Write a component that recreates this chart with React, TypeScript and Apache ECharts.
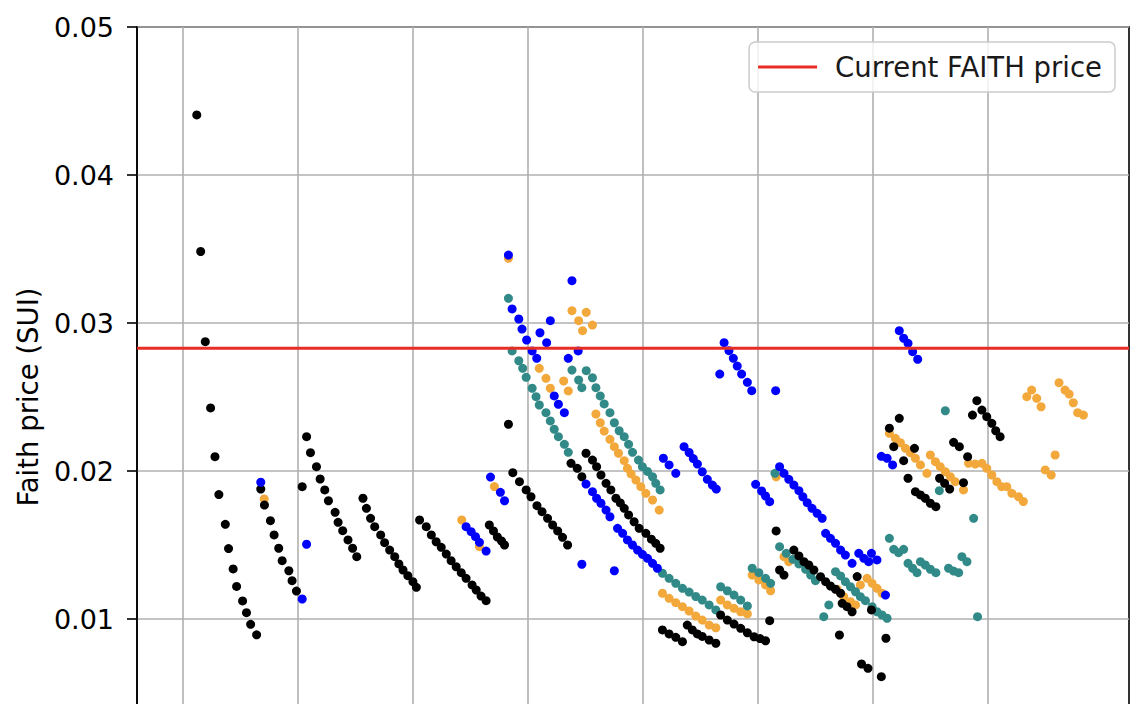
import React, { useEffect, useRef } from "react";
import * as echarts from "echarts";

// x: days (grid every 5 days), y: price in SUI
const xMin = -1.977;
const xMax = 41.12;
const xGridDays = [0, 5, 10, 15, 20, 25, 30, 35];
const currentPrice = 0.0283;
const yMin = 0;
const yMax = 0.05;
const yStep = 0.01;

const blackPoints: [number, number][] = [
  [0.62, 0.04406], [0.79, 0.03483], [0.99, 0.02874], [1.22, 0.02426], [1.41, 0.02097], [1.58, 0.01841], [1.86, 0.0164], [2.0, 0.01476], [2.2, 0.01338], [2.35, 0.0122], [2.61, 0.01122], [2.78, 0.01043], [2.96, 0.00964], [3.22, 0.00893],
  [3.4, 0.01878], [3.56, 0.0177], [3.82, 0.01664], [3.98, 0.01568], [4.18, 0.01478], [4.33, 0.01394], [4.62, 0.01326], [4.76, 0.01259], [4.95, 0.01189],
  [5.2, 0.01894],
  [5.39, 0.02232], [5.56, 0.02124], [5.82, 0.02029], [5.98, 0.01946], [6.18, 0.01872], [6.34, 0.01799], [6.63, 0.01721], [6.76, 0.01653], [6.96, 0.01597], [7.19, 0.01534], [7.39, 0.01478], [7.57, 0.01421],
  [7.84, 0.01816], [7.99, 0.01748], [8.17, 0.0168], [8.35, 0.01624], [8.61, 0.01568], [8.78, 0.01516], [9.0, 0.01466], [9.22, 0.01421], [9.4, 0.01372], [9.58, 0.01331], [9.79, 0.01293], [10.01, 0.01252], [10.16, 0.01214],
  [10.3, 0.01669], [10.59, 0.01624], [10.81, 0.01568], [11.02, 0.01522], [11.24, 0.01484], [11.46, 0.01439], [11.67, 0.01394], [11.89, 0.01353], [12.11, 0.01313], [12.32, 0.01275], [12.58, 0.0123], [12.76, 0.01196], [12.97, 0.01155], [13.19, 0.01124],
  [13.33, 0.01635], [13.51, 0.01595], [13.68, 0.01554], [13.86, 0.01527], [13.99, 0.015],
  [14.16, 0.02316],
  [14.35, 0.01989], [14.64, 0.01928], [14.93, 0.01872], [15.14, 0.01826], [15.4, 0.01766], [15.62, 0.01725], [15.86, 0.0168], [16.08, 0.01635], [16.3, 0.01595], [16.51, 0.01552], [16.73, 0.015],
  [16.88, 0.02052], [17.15, 0.02018], [17.35, 0.01961],
  [17.53, 0.0212], [17.81, 0.02074], [17.99, 0.02029], [18.18, 0.01973], [18.4, 0.01917], [18.61, 0.01872], [18.83, 0.01816], [19.02, 0.01784], [19.19, 0.01748], [19.38, 0.01703], [19.62, 0.01657], [19.84, 0.01613], [20.13, 0.01579], [20.37, 0.01539], [20.56, 0.01511], [20.75, 0.01478],
  [20.85, 0.00926], [21.14, 0.00899], [21.43, 0.00876], [21.72, 0.00847],
  [21.93, 0.00959], [22.15, 0.00926], [22.37, 0.00899], [22.58, 0.00882], [22.88, 0.00858], [23.17, 0.00836],
  [23.38, 0.01027], [23.67, 0.00993], [23.96, 0.00966], [24.25, 0.00937], [24.54, 0.00907], [24.83, 0.0088], [25.09, 0.00868], [25.33, 0.00853],
  [25.51, 0.00989], [25.79, 0.01595], [25.94, 0.01331], [26.13, 0.01297],
  [26.56, 0.01466], [26.78, 0.01426], [27.0, 0.01387], [27.21, 0.01365], [27.43, 0.01331], [27.72, 0.01286], [27.94, 0.01252], [28.15, 0.01223], [28.37, 0.01201], [28.59, 0.01174],
  [28.66, 0.01106], [28.87, 0.01083], [29.09, 0.01049],
  [29.31, 0.01287], [29.93, 0.01061], [28.54, 0.00892], [29.5, 0.00696], [29.78, 0.00667], [30.36, 0.0061], [30.56, 0.0087],
  [31.14, 0.02356], [30.71, 0.02289], [30.9, 0.02164], [31.33, 0.0207], [31.52, 0.01951], [31.8, 0.02153],
  [31.84, 0.0186], [32.06, 0.01838], [32.27, 0.01816], [32.49, 0.01782], [32.73, 0.01759],
  [32.89, 0.01951], [33.11, 0.01917], [33.33, 0.01878],
  [33.5, 0.02194], [33.75, 0.02164], [34.11, 0.02097], [33.93, 0.01921],
  [34.32, 0.02378], [34.51, 0.02475], [34.73, 0.02412], [34.94, 0.02367], [35.16, 0.02322], [35.33, 0.02272], [35.52, 0.02232],
];

const bluePoints: [number, number][] = [
  [3.4, 0.01924], [5.2, 0.01135], [5.39, 0.01505],
  [12.32, 0.01624], [12.54, 0.0159], [12.73, 0.01556], [12.9, 0.01518], [13.19, 0.01459],
  [13.38, 0.01959], [13.81, 0.01856], [13.99, 0.01799],
  [14.16, 0.03459], [14.32, 0.03095], [14.61, 0.03027], [14.75, 0.02959], [14.95, 0.02885], [15.19, 0.02811], [15.39, 0.02761],
  [15.53, 0.02934], [15.82, 0.02867], [15.98, 0.03016], [16.92, 0.03286], [16.76, 0.02761], [17.19, 0.02811],
  [16.15, 0.02507], [16.33, 0.02451], [16.59, 0.02394],
  [17.53, 0.01912], [17.81, 0.0186], [17.99, 0.01816], [18.18, 0.01782], [18.4, 0.01736], [18.57, 0.01691], [18.9, 0.01613], [19.12, 0.01579], [19.33, 0.01534], [19.55, 0.015], [19.77, 0.01466], [19.98, 0.01437], [20.2, 0.0141], [20.42, 0.01376], [20.63, 0.01343],
  [17.35, 0.0137], [18.76, 0.01326],
  [20.89, 0.02086], [21.14, 0.02041], [21.43, 0.01984],
  [21.79, 0.02164], [22.01, 0.02125], [22.19, 0.02084], [22.37, 0.02047], [22.58, 0.01995], [22.8, 0.01944], [23.02, 0.01905], [23.19, 0.01878],
  [23.53, 0.02867], [23.74, 0.02813], [23.93, 0.02761], [24.1, 0.02709], [24.29, 0.02655], [24.54, 0.02599], [24.73, 0.02543],
  [23.34, 0.02655], [25.77, 0.02543],
  [24.9, 0.0191], [25.16, 0.01865], [25.33, 0.01831], [25.51, 0.01793],
  [25.94, 0.02029], [26.13, 0.01984], [26.34, 0.01944], [26.56, 0.01905], [26.78, 0.01867], [26.95, 0.01826], [27.14, 0.01786], [27.35, 0.01748], [27.57, 0.01714], [27.79, 0.0168],
  [27.94, 0.01579], [28.15, 0.01545], [28.37, 0.01511], [28.59, 0.01466], [28.8, 0.01432], [29.09, 0.01376],
  [29.38, 0.01444], [29.6, 0.0141], [29.81, 0.01387], [29.93, 0.01444], [30.17, 0.01399],
  [30.54, 0.01162],
  [30.36, 0.02099], [30.61, 0.02086], [30.85, 0.02041],
  [31.14, 0.02948], [31.33, 0.02897], [31.52, 0.02863], [31.72, 0.02806], [31.94, 0.02755],
];

const tealPoints: [number, number][] = [
  [14.16, 0.03167], [14.32, 0.02811], [14.61, 0.02745], [14.78, 0.02694], [14.93, 0.02633], [15.19, 0.02559], [15.36, 0.02502], [15.5, 0.02446], [15.79, 0.02394], [15.98, 0.02338], [16.15, 0.02282], [16.33, 0.02232], [16.59, 0.0218], [16.76, 0.02126],
  [16.92, 0.02682], [17.21, 0.02615], [17.35, 0.02563],
  [17.54, 0.02678], [17.81, 0.0263], [17.96, 0.02563], [18.15, 0.02507], [18.32, 0.02453], [18.57, 0.02394], [18.76, 0.02326], [18.97, 0.02272], [19.19, 0.02232], [19.38, 0.0218], [19.55, 0.02126], [19.81, 0.02074], [19.98, 0.02029], [20.2, 0.01997], [20.42, 0.01961], [20.56, 0.01917], [20.75, 0.01872],
  [20.85, 0.01309], [21.14, 0.01275], [21.43, 0.01241], [21.72, 0.01207], [22.01, 0.01182], [22.3, 0.01152], [22.58, 0.01128], [22.88, 0.01095], [23.17, 0.01061],
  [23.38, 0.01218], [23.67, 0.01191], [23.96, 0.01162], [24.25, 0.01128], [24.54, 0.01088],
  [24.75, 0.01343], [25.04, 0.01313], [25.33, 0.01275], [25.55, 0.01241],
  [25.74, 0.01984],
  [25.94, 0.01489], [26.23, 0.01444], [26.52, 0.01403], [26.78, 0.01372], [27.07, 0.01336], [27.29, 0.01297], [27.5, 0.01259],
  [27.86, 0.01016], [28.08, 0.01095],
  [28.37, 0.0132], [28.59, 0.01291], [28.8, 0.01252], [29.02, 0.01218], [29.24, 0.01184], [29.45, 0.01151], [29.67, 0.01124], [29.96, 0.01083], [30.17, 0.01049], [30.39, 0.01027], [30.61, 0.01005],
  [30.71, 0.01545], [30.9, 0.01471], [31.11, 0.01448], [31.33, 0.01471],
  [31.52, 0.01376], [31.72, 0.01343], [31.91, 0.01313],
  [32.06, 0.01387], [32.27, 0.01365], [32.49, 0.01336], [32.73, 0.01313],
  [33.28, 0.01343], [33.5, 0.01324], [33.72, 0.01313], [33.86, 0.01421], [34.08, 0.01387],
  [34.37, 0.0168], [34.54, 0.01016], [33.14, 0.02407], [32.88, 0.01867],
];

const orangePoints: [number, number][] = [
  [3.55, 0.01811], [12.13, 0.01669], [12.9, 0.01489], [13.55, 0.01895], [14.16, 0.03437],
  [15.5, 0.02694], [15.79, 0.02626], [15.98, 0.02559], [16.56, 0.02608], [16.76, 0.02541],
  [16.92, 0.03083], [17.21, 0.03016], [17.54, 0.03072], [17.38, 0.02948], [17.81, 0.02986],
  [17.96, 0.02385], [18.15, 0.02326], [18.32, 0.0227], [18.57, 0.02214], [18.76, 0.02164], [18.94, 0.0212], [19.19, 0.0207], [19.33, 0.02018], [19.49, 0.0198], [19.7, 0.01939], [19.91, 0.01894], [20.13, 0.01849], [20.42, 0.01804], [20.71, 0.01736],
  [20.85, 0.01174], [21.14, 0.0114], [21.43, 0.0111], [21.72, 0.01083], [22.01, 0.01054], [22.3, 0.0102], [22.58, 0.00993], [22.88, 0.00959], [23.17, 0.00941],
  [23.38, 0.01128], [23.67, 0.01095], [23.96, 0.01072], [24.25, 0.01049], [24.54, 0.01034],
  [24.75, 0.01297], [25.04, 0.01264], [25.33, 0.0123], [25.55, 0.01191],
  [25.79, 0.01961], [26.13, 0.01421], [26.34, 0.01387],
  [28.44, 0.01201], [28.73, 0.01151], [29.02, 0.01117], [29.24, 0.01095],
  [29.45, 0.0123], [29.74, 0.01275], [29.96, 0.01241], [30.17, 0.01207], [30.39, 0.01174],
  [30.71, 0.02255], [30.97, 0.02221], [31.19, 0.02191], [31.41, 0.02153], [31.62, 0.02124], [31.84, 0.02086], [32.06, 0.02041], [32.34, 0.01984],
  [32.49, 0.02108], [32.71, 0.02063], [32.92, 0.02029], [33.14, 0.01995], [33.36, 0.01961], [33.57, 0.01928], [33.93, 0.01872],
  [34.15, 0.02052], [34.44, 0.02047], [34.73, 0.02052], [34.94, 0.02018], [35.16, 0.01973], [35.38, 0.01928], [35.59, 0.01894], [35.81, 0.01894], [36.03, 0.01849], [36.32, 0.01826], [36.53, 0.01794],
  [36.68, 0.02502], [36.89, 0.02547], [37.11, 0.02491], [37.3, 0.02434],
  [38.08, 0.02597], [38.34, 0.02547], [38.52, 0.0252], [38.7, 0.02461], [38.89, 0.02394], [39.14, 0.02378],
  [37.91, 0.02108], [37.48, 0.02007], [37.74, 0.01973],
];

const FONT = "DejaVu Sans";
const GRID_COLOR = "#b0b0b0";
const RED = "#e62e24";

function scatter(name: string, data: [number, number][], color: string, extra: any = {}) {
  return {
    type: "scatter",
    name,
    data,
    symbol: "circle",
    symbolSize: 9,
    itemStyle: { color, opacity: 1 },
    z: 2,
    silent: true,
    ...extra,
  };
}

export default function App() {
  const ref = useRef<HTMLDivElement>(null);
  useEffect(() => {
    document.body.style.margin = "0";
    const chart = echarts.init(ref.current!, null, { renderer: "svg" });
    chart.setOption({
      animation: false,
      textStyle: { fontFamily: FONT },
      grid: {
        left: 137,
        right: 13,
        top: 27,
        bottom: -63,
        show: true,
        borderColor: "#000",
        borderWidth: 1.6,
        containLabel: false,
        outerBoundsMode: "none",
      },
      legend: {
        data: [{ name: "Current FAITH price", icon: "rect" }],
        right: 27,
        top: 42,
        itemWidth: 59,
        itemHeight: 3,
        padding: [11, 13, 11, 9],
        backgroundColor: "rgba(255,255,255,0.8)",
        borderColor: "#cccccc",
        borderWidth: 1.5,
        borderRadius: 6,
        selectedMode: false,
        textStyle: {
          fontSize: 27.5,
          color: "#1a1a1a",
          fontFamily: FONT,
          padding: [0, 0, 0, 13],
        },
      },
      xAxis: {
        type: "value",
        min: xMin,
        max: xMax,
        axisLine: { show: false },
        axisTick: { show: false },
        axisLabel: { show: false },
        splitLine: { show: false },
      },
      yAxis: {
        type: "value",
        min: yMin,
        max: yMax,
        interval: yStep,
        name: "Faith price (SUI)",
        nameLocation: "middle",
        nameGap: 95,
        nameTextStyle: { fontSize: 27.5, color: "#000", fontFamily: FONT },
        axisLine: { show: true, onZero: false, lineStyle: { color: "#000", width: 1.6 } },
        axisTick: { show: true, length: 10, lineStyle: { color: "#000", width: 1.6 } },
        axisLabel: {
          fontSize: 27,
          color: "#000",
          margin: 23,
          fontFamily: FONT,
          formatter: (v: number) => (v === 0 ? "" : v.toFixed(2)),
        },
        splitLine: { show: true, lineStyle: { color: GRID_COLOR, width: 1.6 } },
      },
      series: [
        scatter("orange", orangePoints, "#f3a83b", {
          markLine: {
            silent: true,
            z: 1,
            symbol: ["none", "none"],
            label: { show: false },
            emphasis: { disabled: true },
            lineStyle: { color: GRID_COLOR, width: 1.6, type: "solid" },
            data: xGridDays.map((d) => ({ xAxis: d })),
          },
        }),
        scatter("teal", tealPoints, "#318a87"),
        scatter("black", blackPoints, "#000000"),
        scatter("blue", bluePoints, "#0000ff"),
        {
          type: "line",
          name: "Current FAITH price",
          data: [
            [xMin, currentPrice],
            [xMax, currentPrice],
          ],
          symbol: "none",
          showSymbol: false,
          lineStyle: { color: RED, width: 3 },
          itemStyle: { color: RED },
          z: 3,
          silent: true,
        },
      ],
    });
    return () => chart.dispose();
  }, []);
  return <div ref={ref} style={{ width: 1142, height: 704 }} />;
}
